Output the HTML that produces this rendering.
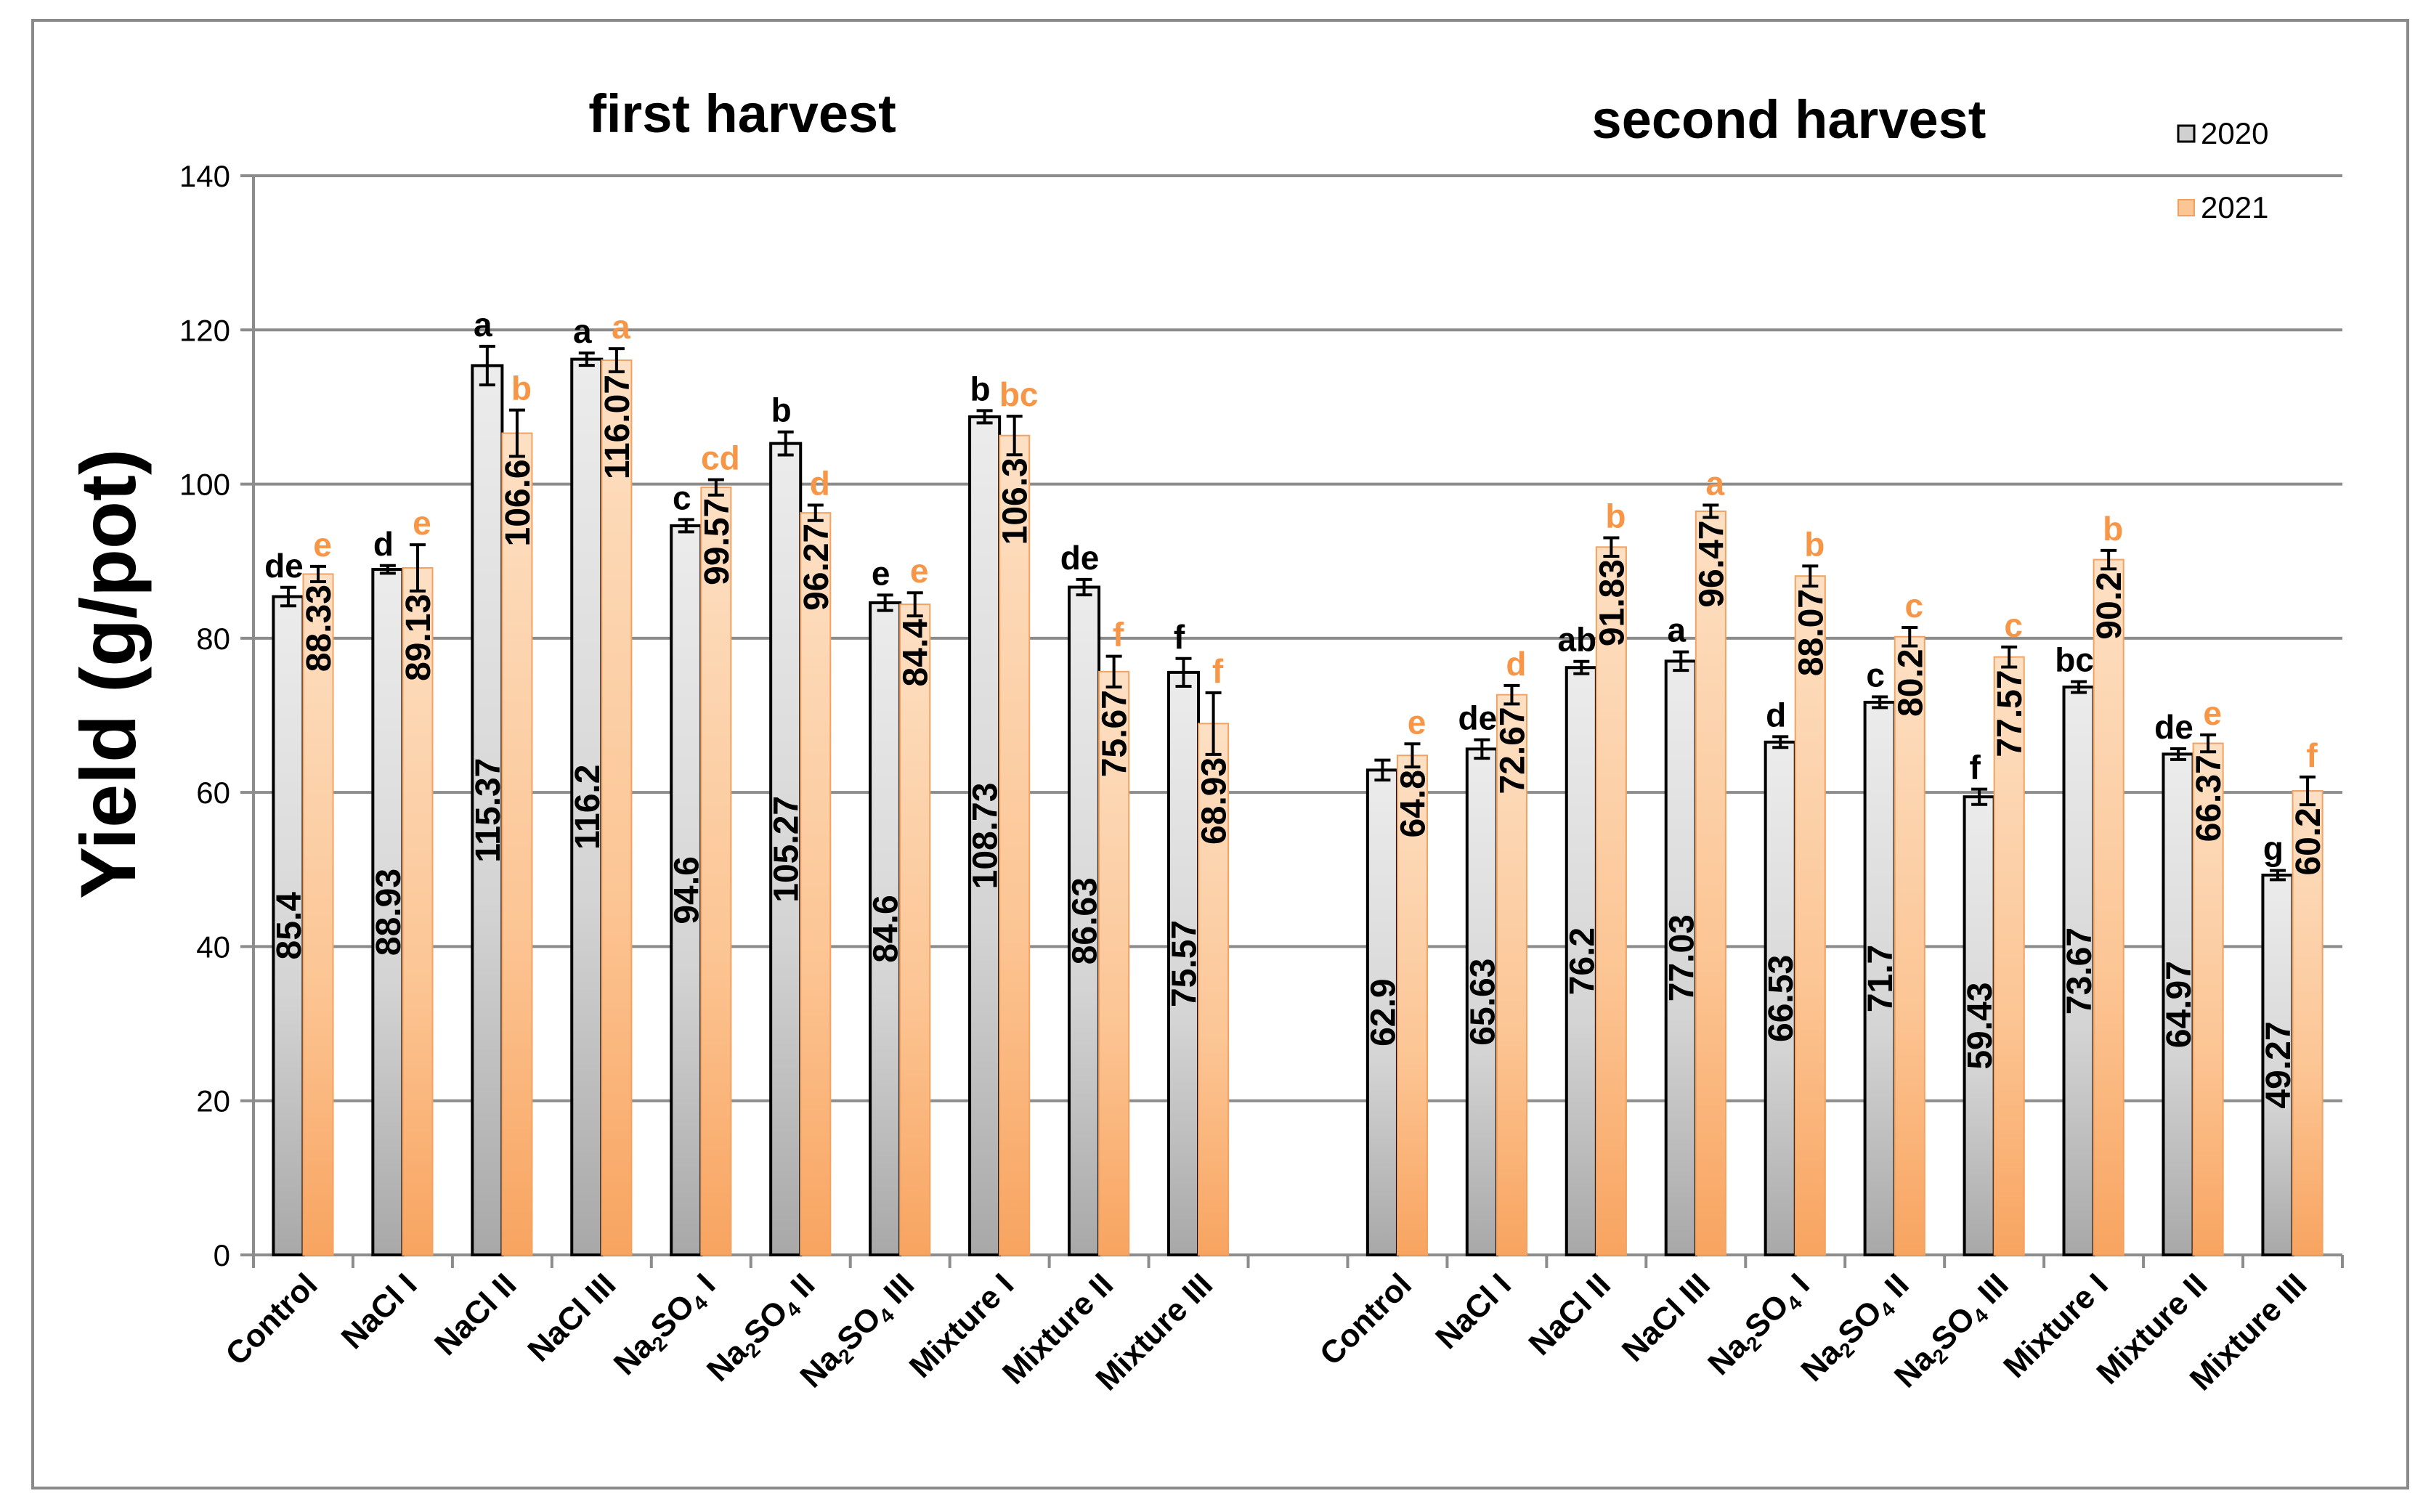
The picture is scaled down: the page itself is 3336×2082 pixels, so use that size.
<!DOCTYPE html>
<html><head><meta charset="utf-8">
<style>html,body{margin:0;padding:0;background:#fff}svg{display:block}</style>
</head><body>
<svg id="chart" xmlns="http://www.w3.org/2000/svg" width="3336" height="2082" viewBox="0 0 3336 2082" font-family="Liberation Sans, sans-serif">
<defs>
<linearGradient id="gGray" x1="0" y1="0" x2="0" y2="1"><stop offset="0" stop-color="#ececec"/><stop offset="0.6" stop-color="#d4d4d4"/><stop offset="1" stop-color="#a8a8a8"/></linearGradient>
<linearGradient id="gOr" x1="0" y1="0" x2="0" y2="1"><stop offset="0" stop-color="#fde0c4"/><stop offset="0.6" stop-color="#fcc594"/><stop offset="1" stop-color="#f8a460"/></linearGradient>
</defs>
<rect x="45" y="28" width="3270" height="2021" fill="#fff" stroke="#8a8a8a" stroke-width="4"/>
<g id="grid"></g>
<g id="bars"></g>
<g id="labels"></g>
<text x="1022" y="182" font-size="74" font-weight="bold" text-anchor="middle">first harvest</text>
<text x="2463" y="190" font-size="74" font-weight="bold" text-anchor="middle">second harvest</text>
<text transform="translate(186,928) rotate(-90)" font-size="108" font-weight="bold" text-anchor="middle">Yield (g/pot)</text>
<g>
<rect x="2999" y="173" width="22" height="22" fill="#d0d0d0" stroke="#000" stroke-width="3"/>
<text x="3030" y="198" font-size="42">2020</text>
<rect x="2999" y="275" width="22" height="22" fill="#fcc594" stroke="#f0a060" stroke-width="2"/>
<text x="3030" y="300" font-size="42">2021</text>
</g>
</svg>
<script>
const categories = ["Control","NaCl I","NaCl II","NaCl III","Na2SO4 I","Na2SO4 II","Na2SO4 III","Mixture I","Mixture II","Mixture III"];
const first2020 = [85.4,88.93,115.37,116.2,94.6,105.27,84.6,108.73,86.63,75.57];
const first2021 = [88.33,89.13,106.6,116.07,99.57,96.27,84.4,106.3,75.67,68.93];
const second2020 = [62.9,65.63,76.2,77.03,66.53,71.7,59.43,73.67,64.97,49.27];
const second2021 = [64.8,72.67,91.83,96.47,88.07,80.2,77.57,90.2,66.37,60.2];
const firstErr2020 = [1.2,0.5,2.5,0.8,0.8,1.5,1.0,0.8,1.0,1.8];
const firstErr2021 = [1.0,3.0,3.0,1.5,1.0,1.0,1.5,2.5,2.0,4.0];
const secondErr2020 = [1.3,1.2,0.8,1.2,0.7,0.7,1.0,0.7,0.7,0.6];
const secondErr2021 = [1.5,1.2,1.2,0.8,1.3,1.2,1.3,1.2,1.1,1.8];
const firstLet2020 = ["de","d","a","a","c","b","e","b","de","f"];
const firstLet2021 = ["e","e","b","a","cd","d","e","bc","f","f"];
const secondLet2020 = ["","de","ab","a","d","c","f","bc","de","g"];
const secondLet2021 = ["e","d","b","a","b","c","c","b","e","f"];
const yTicks = [0,20,40,60,80,100,120,140];

const NS="http://www.w3.org/2000/svg";
const X0=349, X1=3225, Y0=1728, Y140=242, YMAX=140;
const slot=(X1-X0)/21;
const y=v=>Y0-(v/YMAX)*(Y0-Y140);
const slotX=i=>X0+i*slot;
function mk(tag,attrs,parent){const e=document.createElementNS(NS,tag);for(const k in attrs)e.setAttribute(k,attrs[k]);parent.appendChild(e);return e;}
const grid=document.getElementById('grid'),bars=document.getElementById('bars'),labels=document.getElementById('labels');

yTicks.forEach(t=>{
  const l=mk('line',{x1:X0-18,x2:X1,y1:y(t),y2:y(t),stroke:'#8c8c8c','stroke-width':4},grid);
  
  
  const tx=mk('text',{x:X0-32,y:y(t)+15,'font-size':42,'text-anchor':'end'},grid);
  tx.textContent=t;
  
  
});
const ax=mk('line',{x1:X0,x2:X0,y1:Y140,y2:Y0,stroke:'#8c8c8c','stroke-width':4},grid);


for(let i=0;i<=21;i++){
  const tk=mk('line',{x1:slotX(i),x2:slotX(i),y1:Y0,y2:Y0+18,stroke:'#8c8c8c','stroke-width':4},grid);
  
  
}

function catLabel(name,cx,key){
  const t=mk('text',{transform:`translate(${cx+22},${Y0+44}) rotate(-45)`,'font-size':44,'font-weight':'bold','text-anchor':'end'},labels);
  
  
  if(name.startsWith('Na2SO4')){
    const a=mk('tspan',{},t);a.textContent='Na';
    const b=mk('tspan',{'font-size':28,dy:9},t);b.textContent='2';
    const c=mk('tspan',{dy:-9},t);c.textContent='SO';
    const d=mk('tspan',{'font-size':28,dy:9},t);d.textContent='4';
    const e=mk('tspan',{dy:-9},t);e.textContent=name.slice(6);
  } else t.textContent=name;
}

function drawBar(xl,w,v,err,fill,stroke,lab,letter,letColor,isOr,key){
  const r=mk('rect',{x:xl,y:y(v),width:w,height:Y0-y(v),fill:fill,stroke:stroke,'stroke-width':isOr?2:4},bars);
  
  
  const cx=xl+w/2, yt=y(v+err), yb=y(v-err);
  const eb=mk('path',{d:`M${cx-11},${yt}H${cx+11}M${cx},${yt}V${yb}M${cx-11},${yb}H${cx+11}`,stroke:'#000','stroke-width':4,fill:'none'},bars);
  
  
  const ty = isOr ? Math.max(y(v)+6,yb+4) : (y(v)+Y0)/2;
  const vt=mk('text',{transform:`translate(${cx+17},${ty}) rotate(-90)`,'font-size':48,'font-weight':'bold','text-anchor':isOr?'end':'middle'},labels);
  vt.textContent=lab;
  
  
  if(letter){
    const lt=mk('text',{x:cx+(isOr?6:-6),y:yt-14,'font-size':46,'font-weight':'bold',fill:letColor,'text-anchor':'middle'},labels);
    lt.textContent=letter;
    
    
  }
}

function group(offset,v20,v21,e20,e21,l20,l21,tag){
  categories.forEach((c,i)=>{
    const s=slotX(offset+i), w=slot*0.3;
    drawBar(s+slot*0.2,w,v20[i],e20[i],'url(#gGray)','#000',String(v20[i]),l20[i],'#000',false,tag+'-2020-'+i);
    drawBar(s+slot*0.5,w,v21[i],e21[i],'url(#gOr)','#f4a261',String(v21[i]),l21[i],'#f79646',true,tag+'-2021-'+i);
    catLabel(c,s+slot/2,tag+'-'+i);
  });
}
group(0,first2020,first2021,firstErr2020,firstErr2021,firstLet2020,firstLet2021,'first');
group(11,second2020,second2021,secondErr2020,secondErr2021,secondLet2020,secondLet2021,'second');
</script>
</body></html>
